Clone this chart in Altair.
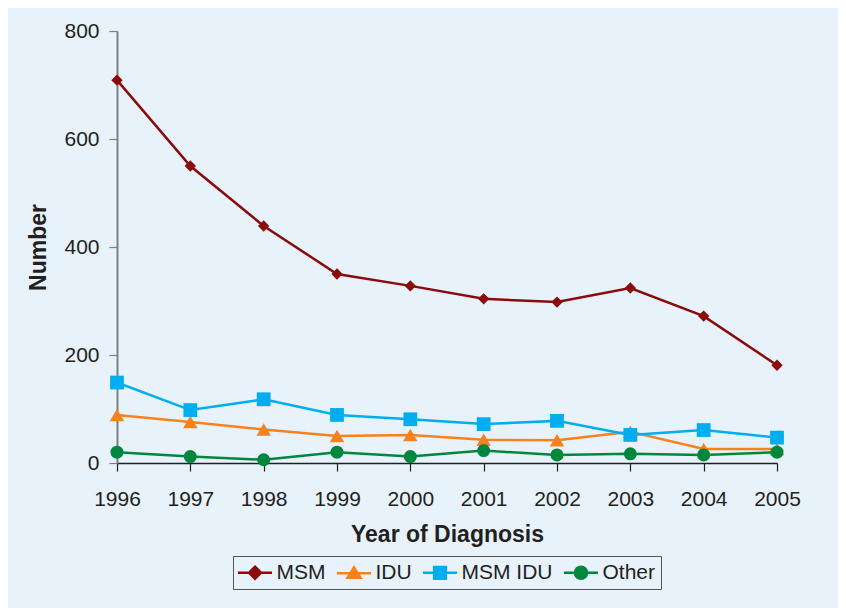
import altair as alt
import pandas as pd

years = [1996, 1997, 1998, 1999, 2000, 2001, 2002, 2003, 2004, 2005]
msm = [709, 550, 439, 350, 328, 304, 298, 324, 272, 181]
idu = [89, 76, 62, 50, 52, 43, 42, 58, 26, 26]
msm_idu = [149, 98, 118, 89, 81, 72, 78, 52, 61, 47]
other = [20, 12, 6, 20, 12, 23, 15, 17, 15, 20]

series_names = ["MSM", "IDU", "MSM IDU", "Other"]
series_colors = ["#8b0a0a", "#f5821f", "#00aeef", "#00873e"]
series_shapes = ["diamond", "triangle-up", "square", "circle"]
series_sizes = [130, 210, 190, 170]

rows = []
for name, vals in zip(series_names, [msm, idu, msm_idu, other]):
    for y, v in zip(years, vals):
        rows.append({"Year": y, "Number": v, "Series": name})
df = pd.DataFrame(rows)

legend_paths = [
    "M-1.7,0L1.7,0M0,-0.6L0.6,0L0,0.6L-0.6,0Z",
    "M-1.7,0L1.7,0M0,-0.58L0.65,0.45L-0.65,0.45Z",
    "M-1.7,0L1.7,0M-0.58,-0.58L0.58,-0.58L0.58,0.58L-0.58,0.58Z",
    "M-1.7,0L1.7,0M-0.6,0A0.6,0.6,0,1,0,0.6,0A0.6,0.6,0,1,0,-0.6,0Z",
]

font = "Liberation Sans"
txt = "#231f20"

color_scale = alt.Scale(domain=series_names, range=series_colors)

x_enc = alt.X(
    "Year:Q",
    scale=alt.Scale(domain=[1996, 2005], nice=False, zero=False),
    axis=alt.Axis(
        values=years, format="d", title="Year of Diagnosis", grid=False,
        domainColor=txt, tickColor=txt, tickSize=8, labelPadding=17,
        labelFontSize=21, titleFontSize=23, titleFontWeight="bold",
        titlePadding=14, labelColor=txt, titleColor=txt,
        labelFont=font, titleFont=font, domainWidth=1.5, tickWidth=1.2,
        labelFlush=False, labelOverlap=False, labelBound=False,
    ),
)
y_enc = alt.Y(
    "Number:Q",
    scale=alt.Scale(domain=[0, 800], nice=False),
    axis=alt.Axis(
        values=[0, 200, 400, 600, 800], title="Number", grid=False,
        domainColor="#7f7f7f", tickColor="#7f7f7f", tickSize=8, labelPadding=10,
        labelFontSize=21, titleFontSize=23, titleFontWeight="bold",
        titlePadding=13, labelColor=txt, titleColor=txt,
        labelFont=font, titleFont=font, domainWidth=2, tickWidth=1.2,
        labelFlush=False, labelOverlap=False,
    ),
)

legend = alt.Legend(
    title=None,
    orient="none",
    legendX=116,
    legendY=525,
    direction="horizontal",
    columns=4,
    strokeColor="#555555",
    padding=5,
    labelFontSize=21,
    labelFont=font,
    labelColor=txt,
    symbolSize=400,
    symbolStrokeWidth=2.5,
    symbolOffset=5.5,
    symbolOpacity=1,
    labelOffset=10,
    columnPadding=6,
)

series_layers = []
for name, col in zip(series_names, series_colors):
    base = alt.Chart(df).transform_filter(alt.datum.Series == name)
    series_layers.append(
        base.mark_line(strokeWidth=2.5, color=col).encode(x=x_enc, y=y_enc)
    )
for name, col, shp, sz in zip(series_names, series_colors, series_shapes, series_sizes):
    base = alt.Chart(df).transform_filter(alt.datum.Series == name)
    series_layers.append(
        base.mark_point(filled=True, opacity=1, shape=shp, size=sz, color=col).encode(x=x_enc, y=y_enc)
    )

# legend-only layer: no rows survive the filter, the legend comes from the scales
leg_layer = alt.Chart(df).transform_filter("false").mark_point(filled=True).encode(
    x=x_enc,
    y=y_enc,
    fill=alt.Fill("Series:N", scale=color_scale, legend=legend),
    stroke=alt.Stroke("Series:N", scale=color_scale, legend=legend),
    shape=alt.Shape("Series:N", scale=alt.Scale(domain=series_names, range=legend_paths), legend=legend),
)

chart = alt.layer(*series_layers, leg_layer).properties(
    width=660,
    height=432,
    autosize=alt.AutoSizeParams(type="none"),
    padding={"left": 109, "top": 23, "right": 61, "bottom": 145},
    background="#e8f2fb",
).configure_view(stroke=None)

chart.save("out.html", embed_options={"renderer": "svg", "actions": False})
